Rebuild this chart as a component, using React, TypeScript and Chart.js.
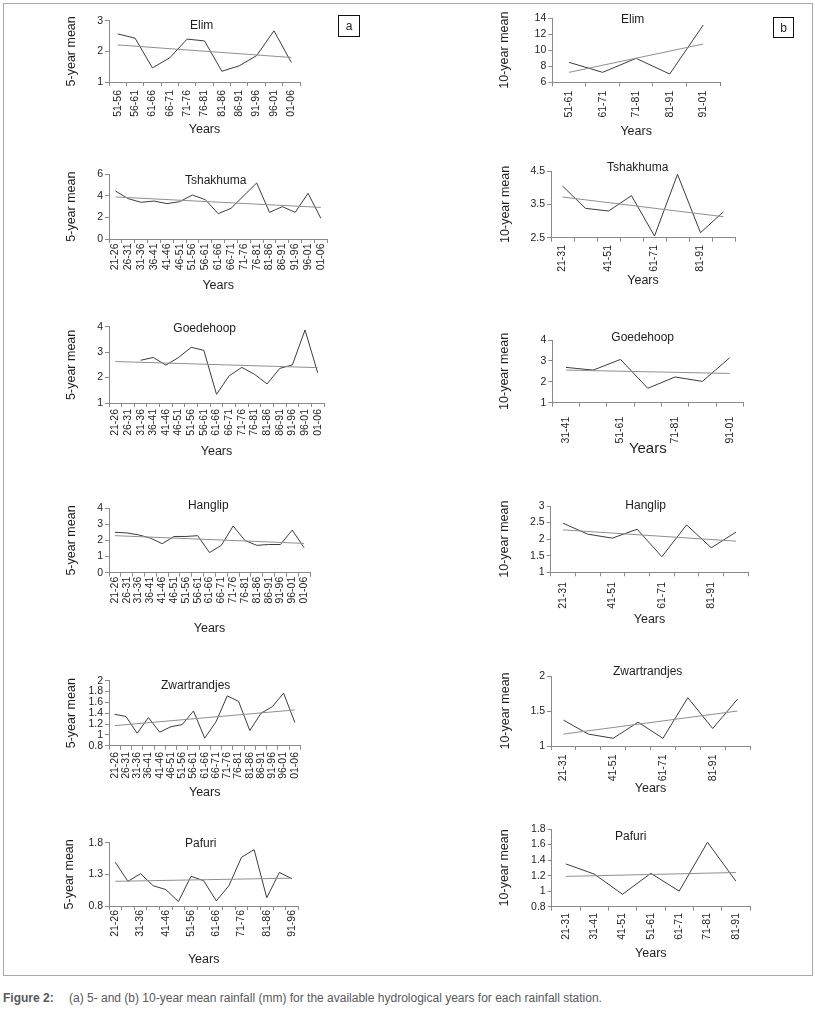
import React, { useEffect, useRef } from 'react';
import { Chart, registerables } from 'chart.js';

Chart.register(...registerables);

// ---------- categories ----------
const catsElim5 = ['51-56', '56-61', '61-66', '66-71', '71-76', '76-81', '81-86', '86-91', '91-96', '96-01', '01-06'];
const catsFull5 = ['21-26', '26-31', '31-36', '36-41', '41-46', '46-51', '51-56', '56-61', '61-66', '66-71', '71-76', '76-81', '81-86', '86-91', '91-96', '96-01', '01-06'];
const catsPafuri5 = ['21-26', '26-31', '31-36', '36-41', '41-46', '46-51', '51-56', '56-61', '61-66', '66-71', '71-76', '76-81', '81-86', '86-91', '91-96'];
const catsElim10 = ['51-61', '61-71', '71-81', '81-91', '91-01'];
const catsFull10 = ['21-31', '31-41', '41-51', '51-61', '61-71', '71-81', '81-91', '91-01'];
const catsGoed10 = ['31-41', '41-51', '51-61', '61-71', '71-81', '81-91', '91-01'];
const catsPafuri10 = ['21-31', '31-41', '41-51', '51-61', '61-71', '71-81', '81-91'];

// ---------- series values ----------
const elim5 = [2.57, 2.43, 1.46, 1.79, 2.4, 2.34, 1.35, 1.53, 1.86, 2.67, 1.64];
const elim10 = [8.48, 7.24, 8.98, 7.03, 13.13];
const tshakhuma5 = [4.45, 3.74, 3.4, 3.52, 3.28, 3.46, 4.08, 3.65, 2.35, 2.84, 4.02, 5.2, 2.47, 3.0, 2.47, 4.24, 1.91];
const tshakhuma10 = [4.05, 3.38, 3.3, 3.76, 2.55, 4.4, 2.65, 3.28];
const goedehoop5 = [null, null, 2.68, 2.79, 2.49, 2.79, 3.19, 3.07, 1.34, 2.07, 2.4, 2.13, 1.75, 2.36, 2.5, 3.87, 2.19];
const goedehoop10 = [2.69, 2.56, 3.07, 1.69, 2.23, 2.02, 3.15];
const hanglip5 = [2.51, 2.47, 2.35, 2.15, 1.8, 2.25, 2.25, 2.3, 1.25, 1.7, 2.9, 2.0, 1.7, 1.75, 1.75, 2.65, 1.55];
const hanglip10 = [2.48, 2.15, 2.03, 2.3, 1.47, 2.43, 1.74, 2.21];
const zwart5 = [1.38, 1.34, 1.03, 1.32, 1.05, 1.15, 1.19, 1.44, 0.94, 1.24, 1.72, 1.62, 1.08, 1.4, 1.52, 1.77, 1.23];
const zwart10 = [1.37, 1.17, 1.11, 1.34, 1.11, 1.69, 1.25, 1.67];
const pafuri5 = [1.49, 1.19, 1.31, 1.12, 1.06, 0.87, 1.27, 1.2, 0.88, 1.12, 1.57, 1.69, 0.93, 1.33, 1.23];
const pafuri10 = [1.35, 1.22, 0.96, 1.23, 1.0, 1.63, 1.13];

// ---------- linear trend (start, end) ----------
const elim5Trend = [2.21, 1.8];
const elim10Trend = [7.24, 10.76];
const tshakhuma5Trend = [3.9, 2.93];
const tshakhuma10Trend = [3.72, 3.13];
const goedehoop5Trend = [2.63, 2.39];
const goedehoop10Trend = [2.56, 2.4];
const hanglip5Trend = [2.3, 1.82];
const hanglip10Trend = [2.28, 1.94];
const zwart5Trend = [1.17, 1.46];
const zwart10Trend = [1.17, 1.5];
const pafuri5Trend = [1.19, 1.24];
const pafuri10Trend = [1.19, 1.24];

// ---------- y tick labels ----------
const ticksElim5 = [1, 2, 3];
const ticksElim10 = [6, 8, 10, 12, 14];
const ticksTshakhuma5 = [0, 2, 4, 6];
const ticksTshakhuma10 = [2.5, 3.5, 4.5];
const ticksGoedehoop5 = [1, 2, 3, 4];
const ticksGoedehoop10 = [1, 2, 3, 4];
const ticksHanglip5 = [0, 1, 2, 3, 4];
const ticksHanglip10 = [1, 1.5, 2, 2.5, 3];
const ticksZwart5 = [0.8, 1, 1.2, 1.4, 1.6, 1.8, 2];
const ticksZwart10 = [1, 1.5, 2];
const ticksPafuri5 = [0.8, 1.3, 1.8];
const ticksPafuri10 = [0.8, 1, 1.2, 1.4, 1.6, 1.8];

const TEXT = '#1e1e1e';
const AXIS = '#8a8a8a';
const DATA_LINE = '#3c3c3c';
const TREND_LINE = '#8f8f8f';
const TICK_FONT = "'Liberation Sans', Arial, sans-serif";
const TITLE_FONT = "'Liberation Sans Narrow', 'Liberation Sans', Arial, sans-serif";

type Spec = {
  title: string;
  yTitle: string;
  cats: string[];
  values: (number | null)[];
  trend: number[];
  yTicks: number[];
  every: number;
  // layout (page px)
  L: number; T: number; R: number; B: number;
  yTitleX: number; xTitleY: number;
  titleX: number; titleY: number;
  gap: number;
  xTitleSize?: number;
};

const panels: Spec[] = [
  { title: 'Elim', yTitle: '5-year mean', cats: catsElim5, values: elim5, trend: elim5Trend, yTicks: ticksElim5, every: 1,
    L: 109, T: 20.7, R: 300, B: 82, yTitleX: 71.7, xTitleY: 129.3, titleX: 201.7, titleY: 25, gap: 8 },
  { title: 'Elim', yTitle: '10-year mean', cats: catsElim10, values: elim10, trend: elim10Trend, yTicks: ticksElim10, every: 1,
    L: 552.3, T: 18, R: 720, B: 82.3, yTitleX: 505, xTitleY: 131.7, titleX: 632.7, titleY: 19, gap: 8.4 },
  { title: 'Tshakhuma', yTitle: '5-year mean', cats: catsFull5, values: tshakhuma5, trend: tshakhuma5Trend, yTicks: ticksTshakhuma5, every: 1,
    L: 109, T: 174.3, R: 327.3, B: 239, yTitleX: 71.7, xTitleY: 286, titleX: 215.7, titleY: 180, gap: 4.5 },
  { title: 'Tshakhuma', yTitle: '10-year mean', cats: catsFull10, values: tshakhuma10, trend: tshakhuma10Trend, yTicks: ticksTshakhuma10, every: 2,
    L: 551, T: 171, R: 735, B: 237.7, yTitleX: 505.7, xTitleY: 281, titleX: 637.7, titleY: 167.3, gap: 7.3 },
  { title: 'Goedehoop', yTitle: '5-year mean', cats: catsFull5, values: goedehoop5, trend: goedehoop5Trend, yTicks: ticksGoedehoop5, every: 1,
    L: 109, T: 326.7, R: 324, B: 403, yTitleX: 71.7, xTitleY: 451.7, titleX: 204.7, titleY: 328.3, gap: 6 },
  { title: 'Goedehoop', yTitle: '10-year mean', cats: catsGoed10, values: goedehoop10, trend: goedehoop10Trend, yTicks: ticksGoedehoop10, every: 2,
    L: 552.3, T: 340, R: 743.3, B: 402.7, yTitleX: 505, xTitleY: 449.3, titleX: 642.7, titleY: 336.7, gap: 14, xTitleSize: 15 },
  { title: 'Hanglip', yTitle: '5-year mean', cats: catsFull5, values: hanglip5, trend: hanglip5Trend, yTicks: ticksHanglip5, every: 1,
    L: 109, T: 508.3, R: 310, B: 572.7, yTitleX: 71.7, xTitleY: 628.3, titleX: 208.3, titleY: 505, gap: 3.5 },
  { title: 'Hanglip', yTitle: '10-year mean', cats: catsFull10, values: hanglip10, trend: hanglip10Trend, yTicks: ticksHanglip10, every: 2,
    L: 550.7, T: 506, R: 748.3, B: 572.3, yTitleX: 505, xTitleY: 620, titleX: 645.7, titleY: 505, gap: 9.7 },
  { title: 'Zwartrandjes', yTitle: '5-year mean', cats: catsFull5, values: zwart5, trend: zwart5Trend, yTicks: ticksZwart5, every: 1,
    L: 109, T: 680.7, R: 301, B: 745.7, yTitleX: 71.7, xTitleY: 792.7, titleX: 195.7, titleY: 685, gap: 6.3 },
  { title: 'Zwartrandjes', yTitle: '10-year mean', cats: catsFull10, values: zwart10, trend: zwart10Trend, yTicks: ticksZwart10, every: 2,
    L: 551, T: 676, R: 750, B: 746, yTitleX: 505.7, xTitleY: 788.3, titleX: 647.7, titleY: 671, gap: 8.5 },
  { title: 'Pafuri', yTitle: '5-year mean', cats: catsPafuri5, values: pafuri5, trend: pafuri5Trend, yTicks: ticksPafuri5, every: 2,
    L: 109, T: 842.7, R: 298.3, B: 906, yTitleX: 70, xTitleY: 960, titleX: 200.7, titleY: 843.3, gap: 4 },
  { title: 'Pafuri', yTitle: '10-year mean', cats: catsPafuri10, values: pafuri10, trend: pafuri10Trend, yTicks: ticksPafuri10, every: 1,
    L: 551.7, T: 829, R: 750, B: 906.7, yTitleX: 505, xTitleY: 953.3, titleX: 630.7, titleY: 835.7, gap: 6.3 },
];

const Y_TITLE_SIZE = 12.5;
const X_TITLE_SIZE = 12.5;
const TICK_SIZE = 10.5;
const TICK_LEN = 4;

function geometry(s: Spec) {
  const yLh = Y_TITLE_SIZE * 1.2;
  const xSize = s.xTitleSize ?? X_TITLE_SIZE;
  const xLh = xSize * 1.2;
  const left = Math.floor(s.yTitleX - yLh / 2);
  const top = Math.floor(s.T - 9);
  const width = Math.ceil(s.R + 9 - left);
  const height = Math.ceil(s.xTitleY + xLh / 2 - top);
  return {
    left, top, width, height, yLh, xLh, xSize,
    yW: s.L - left,
    xH: top + height - s.B,
    padTop: s.T - top,
    padRight: left + width - s.R,
    yTitlePad: s.yTitleX - yLh / 2 - left,
    xTitlePad: top + height - xLh / 2 - s.xTitleY,
  };
}

function Panel({ s }: { s: Spec }) {
  const ref = useRef<HTMLCanvasElement>(null);
  const g = geometry(s);
  useEffect(() => {
    if (!ref.current) return;
    const n = s.cats.length;
    const trendData = s.cats.map((_, i) => (i === 0 ? s.trend[0] : i === n - 1 ? s.trend[1] : null));
    const yMin = s.yTicks[0];
    const yMax = s.yTicks[s.yTicks.length - 1];
    const yStep = s.yTicks[1] - s.yTicks[0];
    const chart = new Chart(ref.current, {
      type: 'line',
      data: {
        labels: s.cats,
        datasets: [
          {
            data: trendData,
            borderColor: TREND_LINE,
            borderWidth: 1,
            pointRadius: 0,
            spanGaps: true,
            tension: 0,
          },
          {
            data: s.values,
            borderColor: DATA_LINE,
            borderWidth: 1,
            pointRadius: 0,
            spanGaps: false,
            tension: 0,
          },
        ],
      },
      options: {
        animation: false,
        responsive: false,
        devicePixelRatio: 1,
        events: [],
        layout: { padding: { top: g.padTop, right: g.padRight, left: 0, bottom: 0 } },
        plugins: { legend: { display: false }, tooltip: { enabled: false }, title: { display: false } },
        scales: {
          x: {
            type: 'category',
            offset: true,
            grid: { display: true, drawOnChartArea: false, drawTicks: true, tickLength: TICK_LEN, offset: true, color: AXIS },
            border: { display: true, color: AXIS, width: 1 },
            ticks: {
              autoSkip: false,
              minRotation: 90,
              maxRotation: 90,
              padding: Math.max(0, s.gap - TICK_LEN),
              color: TEXT,
              font: { family: TICK_FONT, size: TICK_SIZE },
              callback: (_v: any, i: number) => (i % s.every === 0 ? s.cats[i] : ''),
            },
            title: {
              display: true,
              text: 'Years',
              color: TEXT,
              font: { family: TITLE_FONT, size: g.xSize, lineHeight: 1.2 },
              padding: { top: 0, bottom: g.xTitlePad },
            },
            afterFit: (scale: any) => { scale.height = g.xH; },
          },
          y: {
            type: 'linear',
            min: yMin,
            max: yMax,
            grid: { display: true, drawOnChartArea: false, drawTicks: true, tickLength: TICK_LEN, color: AXIS },
            border: { display: true, color: AXIS, width: 1 },
            ticks: {
              stepSize: yStep,
              autoSkip: false,
              padding: 2,
              color: TEXT,
              font: { family: TICK_FONT, size: TICK_SIZE },
              callback: (v: any) => String(Number(Number(v).toFixed(3))),
            },
            title: {
              display: true,
              text: s.yTitle,
              color: TEXT,
              font: { family: TITLE_FONT, size: Y_TITLE_SIZE, lineHeight: 1.2 },
              padding: { top: g.yTitlePad, bottom: 0 },
            },
            afterFit: (scale: any) => { scale.width = g.yW; },
          },
        },
      },
    } as any);
    return () => chart.destroy();
  }, []);
  return (
    <>
      <canvas
        ref={ref}
        width={g.width}
        height={g.height}
        style={{ position: 'absolute', left: g.left, top: g.top, width: g.width, height: g.height }}
      />
      <div
        style={{
          position: 'absolute', left: s.titleX, top: s.titleY, transform: 'translate(-50%, -50%)',
          font: `12px ${TITLE_FONT}`, color: TEXT, whiteSpace: 'nowrap', lineHeight: 1,
        }}
      >
        {s.title}
      </div>
    </>
  );
}

function Tag({ x, y, w, h, text }: { x: number; y: number; w: number; h: number; text: string }) {
  return (
    <div
      style={{
        position: 'absolute', left: x, top: y, width: w, height: h, boxSizing: 'border-box',
        border: '1px solid #111', display: 'flex', alignItems: 'center', justifyContent: 'center',
        font: `12px ${TICK_FONT}`, color: TEXT,
      }}
    >
      {text}
    </div>
  );
}

export default function App() {
  return (
    <div style={{ position: 'absolute', left: 0, top: 0, width: 815, height: 1012, background: '#fff', overflow: 'hidden' }}>
      <div style={{ position: 'absolute', left: 3, top: 3, width: 808, height: 971, border: '1px solid #a8a8a8' }} />
      {panels.map((p, i) => (
        <Panel key={i} s={p} />
      ))}
      <Tag x={338} y={15} w={22} h={22} text="a" />
      <Tag x={773} y={17} w={21} h={21} text="b" />
      <div
        style={{
          position: 'absolute', left: 3, top: 991, whiteSpace: 'nowrap',
          font: `12px ${TITLE_FONT}`, color: '#58595b',
        }}
      >
        <span style={{ fontWeight: 'bold', display: 'inline-block', width: 66 }}>Figure 2:</span>
        <span>(a) 5- and (b) 10-year mean rainfall (mm) for the available hydrological years for each rainfall station.</span>
      </div>
    </div>
  );
}
